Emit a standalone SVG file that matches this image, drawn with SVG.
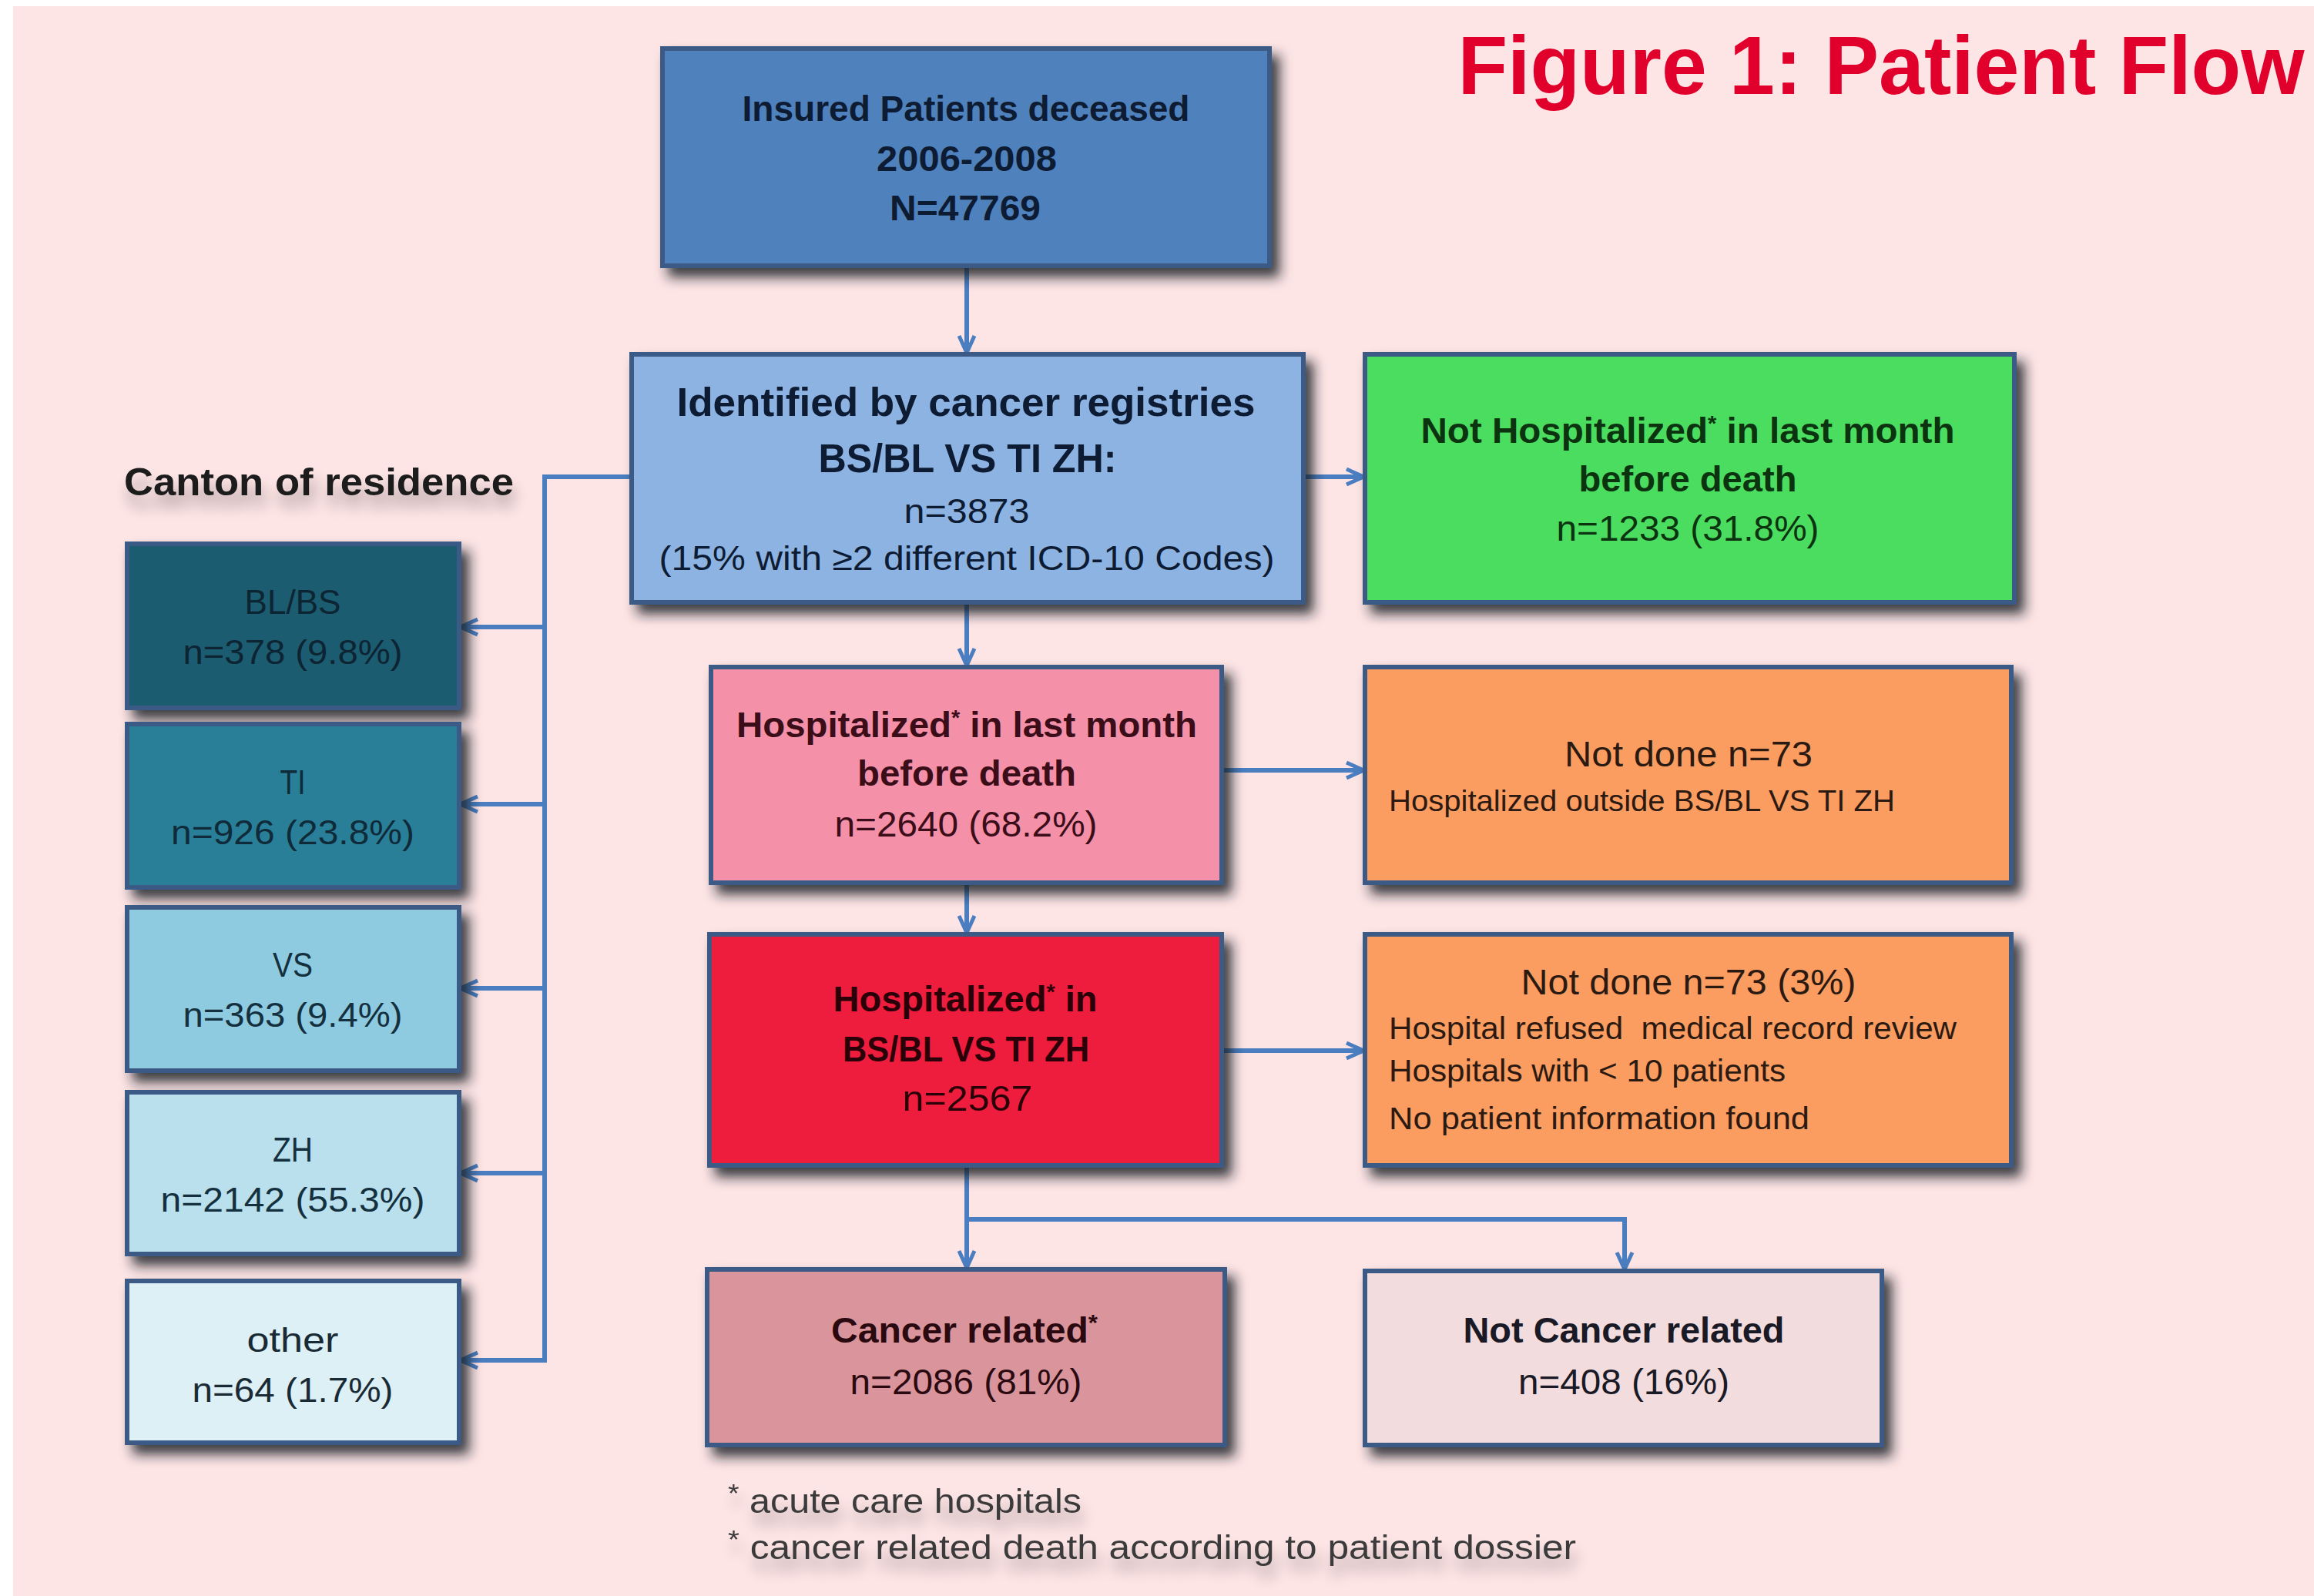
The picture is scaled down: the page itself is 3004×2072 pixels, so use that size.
<svg xmlns="http://www.w3.org/2000/svg" width="3004" height="2072" viewBox="0 0 3004 2072">
<defs>
<filter id="sh" x="-10%" y="-10%" width="125%" height="135%">
<feDropShadow dx="10" dy="12" stdDeviation="8" flood-color="#151a28" flood-opacity="0.85"/>
</filter>
<filter id="tsh" x="-10%" y="-30%" width="120%" height="200%">
<feGaussianBlur in="SourceAlpha" stdDeviation="9" result="b"/>
<feOffset in="b" dx="4" dy="16" result="o"/>
<feComponentTransfer in="o" result="oa"><feFuncA type="linear" slope="0.3"/></feComponentTransfer>
<feMerge><feMergeNode in="oa"/><feMergeNode in="SourceGraphic"/></feMerge>
</filter>
<marker id="ar" markerUnits="userSpaceOnUse" viewBox="0 0 30 30" markerWidth="30" markerHeight="30" refX="27" refY="15" orient="auto">
<path d="M5,5 L27,15 L5,25" fill="none" stroke="#4a7ec0" stroke-width="5"/>
</marker>
</defs>
<style>
text{font-family:"Liberation Sans",Arial,sans-serif;text-anchor:middle;white-space:pre}
.b{font-weight:bold}
.box{stroke:#3a5a86;stroke-width:6;filter:url(#sh)}
.l{text-anchor:start}
.c{fill:none;stroke:#4a7ec0;stroke-width:6}
</style>
<rect x="0" y="0" width="3004" height="2072" fill="#ffffff"/>
<rect x="17" y="8" width="2987" height="2064" fill="#fde4e5"/>

<g id="title">
<text x="2442" y="122" class="b" font-size="107" fill="#e0002b" textLength="1099" lengthAdjust="spacingAndGlyphs">Figure 1: Patient Flow</text>
</g>

<g id="connectors">
<line class="c" x1="1255" y1="345" x2="1255" y2="458" marker-end="url(#ar)"/>
<line class="c" x1="1692" y1="619" x2="1770" y2="619" marker-end="url(#ar)"/>
<polyline class="c" points="820,619 707,619 707,1766"/>
<line class="c" x1="707" y1="814" x2="598" y2="814" marker-end="url(#ar)"/>
<line class="c" x1="707" y1="1044" x2="598" y2="1044" marker-end="url(#ar)"/>
<line class="c" x1="707" y1="1283" x2="598" y2="1283" marker-end="url(#ar)"/>
<line class="c" x1="707" y1="1523" x2="598" y2="1523" marker-end="url(#ar)"/>
<line class="c" x1="710" y1="1766" x2="598" y2="1766" marker-end="url(#ar)"/>
<line class="c" x1="1255" y1="782" x2="1255" y2="864" marker-end="url(#ar)"/>
<line class="c" x1="1586" y1="1000" x2="1770" y2="1000" marker-end="url(#ar)"/>
<line class="c" x1="1255" y1="1146" x2="1255" y2="1211" marker-end="url(#ar)"/>
<line class="c" x1="1586" y1="1364" x2="1770" y2="1364" marker-end="url(#ar)"/>
<line class="c" x1="1255" y1="1513" x2="1255" y2="1646" marker-end="url(#ar)"/>
<polyline class="c" points="1255,1583 2109,1583 2109,1648" marker-end="url(#ar)"/>
</g>

<g id="insured">
<rect class="box" x="860" y="63" width="788" height="282" fill="#4f81bd" stroke="#385d8a"/>
<g class="b" font-size="46" fill="#0d1b33">
<text x="1254" y="157" class="b" textLength="581" lengthAdjust="spacingAndGlyphs">Insured Patients deceased</text>
<text x="1255" y="222" class="b" textLength="234" lengthAdjust="spacingAndGlyphs">2006-2008</text>
<text x="1253" y="286" class="b" textLength="196" lengthAdjust="spacingAndGlyphs">N=47769</text>
</g>
</g>

<g id="identified">
<rect class="box" x="820" y="460" width="872" height="322" fill="#8db3e2"/>
<g fill="#0d1b33">
<text x="1254" y="540" class="b" font-size="52" textLength="751" lengthAdjust="spacingAndGlyphs">Identified by cancer registries</text>
<text x="1256" y="613" class="b" font-size="52" textLength="387" lengthAdjust="spacingAndGlyphs">BS/BL VS TI ZH:</text>
<text x="1255" y="679" font-size="44" textLength="163" lengthAdjust="spacingAndGlyphs">n=3873</text>
<text x="1255" y="740" font-size="44" textLength="799" lengthAdjust="spacingAndGlyphs">(15% with ≥2 different ICD-10 Codes)</text>
</g>
</g>

<g id="not-hospitalized">
<rect class="box" x="1772" y="460" width="843" height="322" fill="#4cdd5e"/>
<g fill="#0b3310">
<text x="2191" y="575" class="b" font-size="46" textLength="693" lengthAdjust="spacingAndGlyphs">Not Hospitalized<tspan font-size="28" dy="-16">*</tspan><tspan dy="16"> in last month</tspan></text>
<text x="2191" y="638" class="b" font-size="46" textLength="283" lengthAdjust="spacingAndGlyphs">before death</text>
<text x="2191" y="702" font-size="46" textLength="341" lengthAdjust="spacingAndGlyphs">n=1233 (31.8%)</text>
</g>
</g>

<g id="hospitalized">
<rect class="box" x="923" y="866" width="663" height="280" fill="#f491a8"/>
<g fill="#3a0d18">
<text x="1255" y="957" class="b" font-size="46" textLength="598" lengthAdjust="spacingAndGlyphs">Hospitalized<tspan font-size="28" dy="-16">*</tspan><tspan dy="16"> in last month</tspan></text>
<text x="1255" y="1020" class="b" font-size="46" textLength="284" lengthAdjust="spacingAndGlyphs">before death</text>
<text x="1254" y="1086" font-size="46" textLength="341" lengthAdjust="spacingAndGlyphs">n=2640 (68.2%)</text>
</g>
</g>

<g id="not-done-1">
<rect class="box" x="1772" y="866" width="839" height="280" fill="#fb9c60"/>
<g fill="#2b1a12">
<text x="2192" y="995" font-size="46" textLength="322" lengthAdjust="spacingAndGlyphs">Not done n=73</text>
<text x="1803" y="1053" class="l" font-size="38" textLength="657" lengthAdjust="spacingAndGlyphs">Hospitalized outside BS/BL VS TI ZH</text>
</g>
</g>

<g id="hospitalized-in">
<rect class="box" x="921" y="1213" width="665" height="300" fill="#ee1a3c"/>
<g fill="#2a0008">
<text x="1253" y="1313" class="b" font-size="46" textLength="343" lengthAdjust="spacingAndGlyphs">Hospitalized<tspan font-size="28" dy="-16">*</tspan><tspan dy="16"> in</tspan></text>
<text x="1254" y="1378" class="b" font-size="46" textLength="320" lengthAdjust="spacingAndGlyphs">BS/BL VS TI ZH</text>
<text x="1256" y="1442" font-size="46" textLength="169" lengthAdjust="spacingAndGlyphs">n=2567</text>
</g>
</g>

<g id="not-done-2">
<rect class="box" x="1772" y="1213" width="839" height="300" fill="#fb9c60"/>
<g fill="#2b1a12">
<text x="2192" y="1291" font-size="46" textLength="435" lengthAdjust="spacingAndGlyphs">Not done n=73 (3%)</text>
<text x="1803" y="1349" class="l" font-size="40" textLength="737" lengthAdjust="spacingAndGlyphs">Hospital refused  medical record review</text>
<text x="1803" y="1404" class="l" font-size="40" textLength="515" lengthAdjust="spacingAndGlyphs">Hospitals with &lt; 10 patients</text>
<text x="1803" y="1466" class="l" font-size="40" textLength="546" lengthAdjust="spacingAndGlyphs">No patient information found</text>
</g>
</g>

<g id="cancer-related">
<rect class="box" x="918" y="1648" width="672" height="228" fill="#d9959b"/>
<g fill="#2a0a10">
<text x="1252" y="1743" class="b" font-size="46" textLength="346" lengthAdjust="spacingAndGlyphs">Cancer related<tspan font-size="30" dy="-16">*</tspan></text>
<text x="1254" y="1810" font-size="46" textLength="301" lengthAdjust="spacingAndGlyphs">n=2086 (81%)</text>
</g>
</g>

<g id="not-cancer-related">
<rect class="box" x="1772" y="1650" width="671" height="226" fill="#f2dcdd"/>
<g fill="#1a1a26">
<text x="2108" y="1743" class="b" font-size="46" textLength="417" lengthAdjust="spacingAndGlyphs">Not Cancer related</text>
<text x="2108" y="1810" font-size="46" textLength="274" lengthAdjust="spacingAndGlyphs">n=408 (16%)</text>
</g>
</g>

<g id="canton-label">
<text x="161" y="643" class="l b" font-size="50" fill="#1a1a1a" filter="url(#tsh)" textLength="506" lengthAdjust="spacingAndGlyphs">Canton of residence</text>
</g>

<g id="bl-bs">
<rect class="box" x="165" y="706" width="431" height="213" fill="#1f5b70"/>
<g fill="#0d2433" font-size="44">
<text x="380" y="797" textLength="125" lengthAdjust="spacingAndGlyphs">BL/BS</text>
<text x="380" y="862" textLength="285" lengthAdjust="spacingAndGlyphs">n=378 (9.8%)</text>
</g>
</g>

<g id="ti">
<rect class="box" x="165" y="940" width="431" height="212" fill="#2c7f98"/>
<g fill="#0f2a38" font-size="44">
<text x="380" y="1031" textLength="33" lengthAdjust="spacingAndGlyphs">TI</text>
<text x="380" y="1096" textLength="316" lengthAdjust="spacingAndGlyphs">n=926 (23.8%)</text>
</g>
</g>

<g id="vs">
<rect class="box" x="165" y="1178" width="431" height="212" fill="#8ecbe0"/>
<g fill="#14303e" font-size="44">
<text x="380" y="1268" textLength="52" lengthAdjust="spacingAndGlyphs">VS</text>
<text x="380" y="1333" textLength="285" lengthAdjust="spacingAndGlyphs">n=363 (9.4%)</text>
</g>
</g>

<g id="zh">
<rect class="box" x="165" y="1418" width="431" height="210" fill="#b9e0ec"/>
<g fill="#14303e" font-size="44">
<text x="380" y="1508" textLength="52" lengthAdjust="spacingAndGlyphs">ZH</text>
<text x="380" y="1573" textLength="343" lengthAdjust="spacingAndGlyphs">n=2142 (55.3%)</text>
</g>
</g>

<g id="other">
<rect class="box" x="165" y="1663" width="431" height="210" fill="#ddf0f6"/>
<g fill="#1a2a34" font-size="44">
<text x="380" y="1755" textLength="119" lengthAdjust="spacingAndGlyphs">other</text>
<text x="380" y="1820" textLength="261" lengthAdjust="spacingAndGlyphs">n=64 (1.7%)</text>
</g>
</g>

<g id="footnotes" fill="#3a3a3a" font-size="44" filter="url(#tsh)">
<text x="945" y="1964" class="l" textLength="459" lengthAdjust="spacingAndGlyphs"><tspan font-size="34" dy="-14">*</tspan><tspan dy="14"> acute care hospitals</tspan></text>
<text x="945" y="2024" class="l" textLength="1101" lengthAdjust="spacingAndGlyphs"><tspan font-size="34" dy="-14">*</tspan><tspan dy="14"> cancer related death according to patient dossier</tspan></text>
</g>
</svg>
